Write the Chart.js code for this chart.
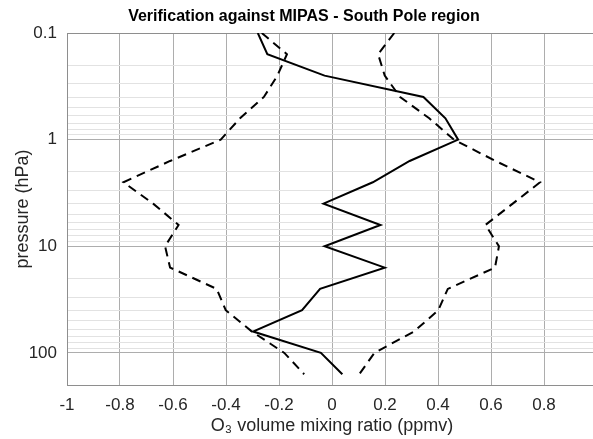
<!DOCTYPE html>
<html>
<head>
<meta charset="utf-8">
<script src="https://cdn.jsdelivr.net/npm/chart.js@4.4.0/dist/chart.umd.min.js"></script>
<style>
html, body { margin: 0; padding: 0; overflow: hidden; background: #fff; }
#clip { position: relative; width: 593px; height: 439px; overflow: hidden; }
#chart { display: block; position: absolute; left: 0; top: 0; }
</style>
</head>
<body>
<div id="clip"><canvas id="chart" width="620" height="439"></canvas></div>
<script>
var chartTitle = 'Verification against MIPAS - South Pole region';

// pressure levels (hPa) where the profiles have vertices
var pressureLevels = [0.1, 0.158, 0.251, 0.398, 0.631, 1, 1.585, 2.512, 3.981, 6.31, 10, 15.85, 25.12, 39.81, 63.1, 100, 158.5];
// mean difference (ppmv)
var meanDiff = [-0.28, -0.244, -0.028, 0.345, 0.428, 0.476, 0.293, 0.154, -0.032, 0.183, -0.028, 0.199, -0.045, -0.113, -0.298, -0.042, 0.039];
// spread lines (dashed)
var upperSpread = [0.235, 0.174, 0.199, 0.257, 0.367, 0.46, 0.617, 0.785, 0.682, 0.579, 0.63, 0.615, 0.437, 0.401, 0.309, 0.16, 0.103];
var lowerSpread = [-0.265, -0.17, -0.206, -0.257, -0.347, -0.42, -0.611, -0.787, -0.675, -0.579, -0.63, -0.611, -0.435, -0.401, -0.302, -0.18, -0.105];

var xTickValues = [-1, -0.8, -0.6, -0.4, -0.2, 0, 0.2, 0.4, 0.6, 0.8, 1];
var yDecades = [0.1, 1, 10, 100];
var yMin = 0.1, yMax = 200;

var axisColor = '#8e8e8e';
var majorGrid = '#adadad';
var minorGrid = '#e2e2e2';
var textColor = '#262626';
var fontFam = '"Liberation Sans", Arial, sans-serif';
var plotRight = 597; // axes box runs past the picture's right edge

function toPoints(vals) {
    return vals.map(function (v, i) { return {x: v, y: pressureLevels[i]}; });
}

function isDecade(v) {
    var l = Math.log10(v);
    return Math.abs(l - Math.round(l)) < 1e-6;
}

var titlePlugin = {
    id: 'plotTitle',
    afterDraw: function (chart) {
        var c = chart.ctx;
        c.save();
        c.font = 'bold 16px ' + fontFam;
        c.fillStyle = '#000';
        c.textAlign = 'center';
        c.textBaseline = 'middle';
        c.fillText(chartTitle, 304, 17);
        c.restore();
    }
};

var lineStyle = {
    showLine: true,
    pointRadius: 0,
    borderColor: '#000',
    borderWidth: 2,
    fill: false,
    lineTension: 0
};

var data = {
    datasets: [
        Object.assign({label: 'mean', data: toPoints(meanDiff)}, lineStyle),
        Object.assign({label: 'upper', data: toPoints(upperSpread), borderDash: [9, 6]}, lineStyle),
        Object.assign({label: 'lower', data: toPoints(lowerSpread), borderDash: [9, 6]}, lineStyle)
    ]
};

var options = {
    animation: false,
    responsive: false,
    devicePixelRatio: 1,
    layout: {padding: {top: 33, right: 20, left: 0, bottom: 0}},
    plugins: {
        legend: {display: false},
        title: {display: false},
        tooltip: {enabled: false}
    },
    scales: {
        x: {
            type: 'linear',
            min: -1,
            max: 1,
            afterBuildTicks: function (scale) {
                scale.ticks = xTickValues.map(function (v) { return {value: v}; });
            },
            afterFit: function (scale) { scale.height = 54; },
            ticks: {
                color: textColor,
                font: {family: fontFam, size: 17},
                padding: 10,
                maxRotation: 0,
                callback: function (v) { return String(Math.round(v * 10) / 10); }
            },
            grid: {color: majorGrid, drawTicks: false},
            border: {display: true, color: axisColor},
            title: {
                display: true,
                text: 'O\u2083 volume mixing ratio (ppmv)',
                color: textColor,
                font: {family: fontFam, size: 18},
                padding: {top: 0, bottom: 2}
            }
        },
        y: {
            type: 'logarithmic',
            reverse: true,
            min: yMin,
            max: yMax,
            afterBuildTicks: function (scale) {
                var t = [];
                yDecades.forEach(function (d) {
                    for (var m = 1; m <= 9; m++) {
                        var v = d * m;
                        if (v <= yMax) t.push({value: v});
                    }
                });
                t.push({value: yMax});
                scale.ticks = t;
            },
            afterFit: function (scale) { scale.width = 67; },
            ticks: {
                color: textColor,
                font: {family: fontFam, size: 17},
                padding: 10,
                autoSkip: false,
                callback: function (v) { return isDecade(v) ? String(Math.round(v * 10) / 10) : ''; }
            },
            grid: {
                drawTicks: false,
                color: function (ctx) {
                    var v = ctx.tick ? ctx.tick.value : 0;
                    if (v === yMin || v === yMax) return axisColor;
                    return isDecade(v) ? majorGrid : minorGrid;
                }
            },
            border: {display: true, color: axisColor},
            title: {
                display: true,
                text: 'pressure (hPa)',
                color: textColor,
                font: {family: fontFam, size: 18},
                padding: {top: 12, bottom: 0}
            }
        }
    }
};

var ctx = document.getElementById('chart').getContext('2d');
var chart1 = new Chart(ctx, {
    type: 'scatter',
    data: data,
    options: options,
    plugins: [titlePlugin]
});

// nudge the right padding so the plot box ends where the reference's does
var diff = chart1.chartArea.right - plotRight;
if (Math.abs(diff) > 0.5) {
    chart1.options.layout.padding.right += diff;
    chart1.update();
}
</script>
</body>
</html>
